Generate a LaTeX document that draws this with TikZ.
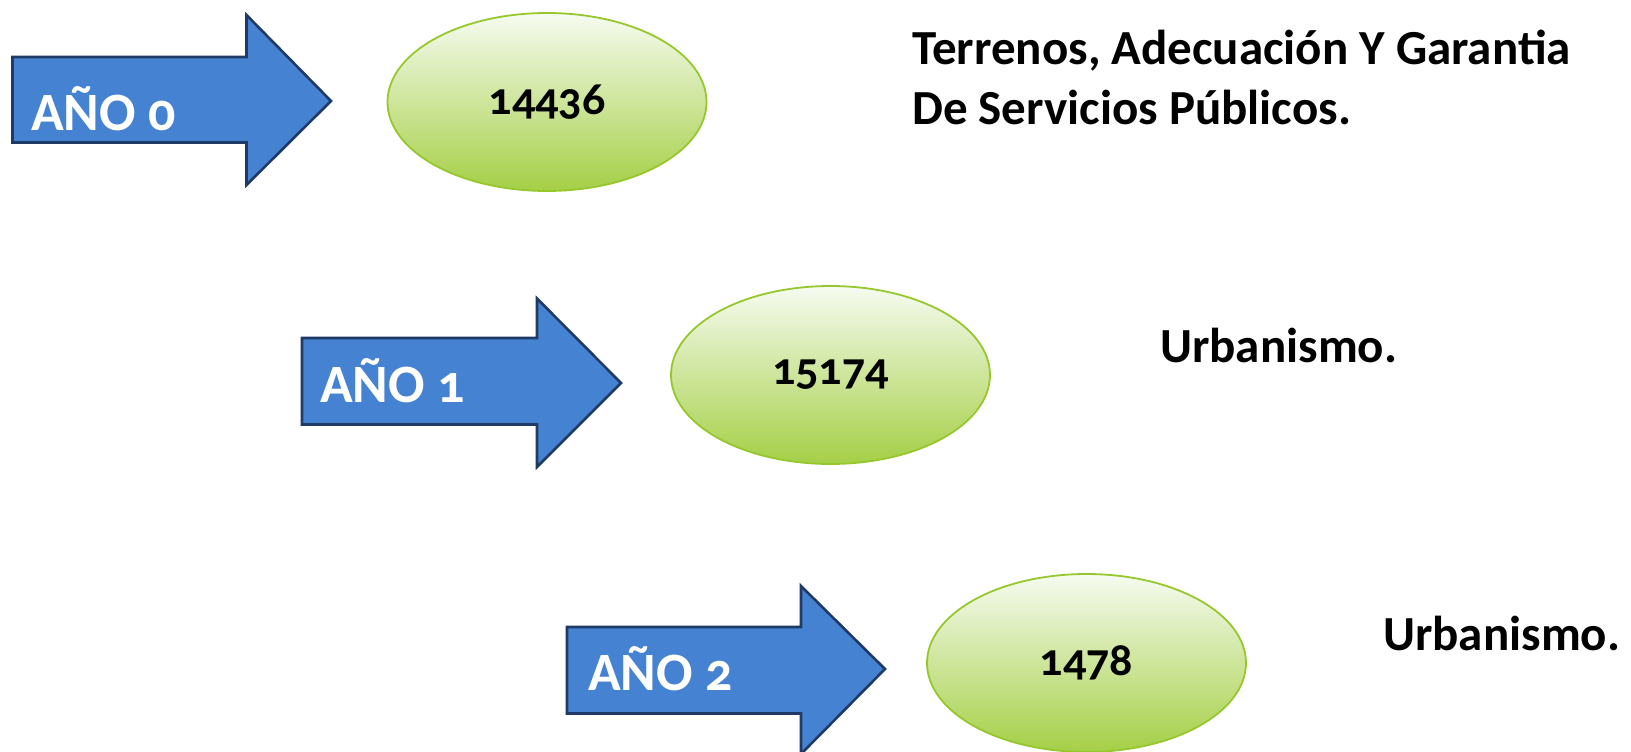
\documentclass[tikz,border=0pt]{standalone}
\usepackage{fontspec}
\setmainfont{Carlito}[Numbers=OldStyle]
\usetikzlibrary{shapes.geometric}
\definecolor{arrowblue}{RGB}{69,131,210}
\definecolor{arrowedge}{RGB}{32,58,102}
\definecolor{elltop}{RGB}{246,251,240}
\definecolor{ellbottom}{RGB}{165,207,70}
\definecolor{elledge}{RGB}{150,200,45}
\begin{document}
\begin{tikzpicture}[x=1pt,y=-1pt,
  arrowshape/.style={fill=arrowblue,draw=arrowedge,line width=2.6pt,line join=miter},
  yeartext/.style={font=\fontsize{54}{60}\selectfont\bfseries,text=white,anchor=base west,inner sep=0pt},
  valell/.style={ellipse,minimum width=319pt,minimum height=178pt,inner sep=0pt,
    top color=elltop,bottom color=ellbottom,draw=elledge,line width=1.8pt,
    font=\fontsize{46}{50}\selectfont\bfseries},
  desc/.style={font=\fontsize{49}{59}\selectfont\bfseries,anchor=base west,inner sep=0pt,align=left}]
\useasboundingbox (0,0) rectangle (1631,752);
% arrow 0
\draw[arrowshape] (12.5,57) -- (246.5,57) -- (246.5,15) -- (331,101) -- (246.5,185) -- (246.5,142.5) -- (12.5,142.5) -- cycle;
\node[yeartext] (y0) at (31,130) {AÑO 0};
\node[valell] (v0) at (547,102) {14436};
\node[desc] (d0) at (912,124) {Terrenos, Adecuación Y Garantia\\De Servicios Públicos.};
% arrow 1
\draw[arrowshape] (302,338) -- (537,338) -- (537,298.5) -- (621,383) -- (537,467) -- (537,424.5) -- (302,424.5) -- cycle;
\node[yeartext] (y1) at (320,402.5) {AÑO 1};
\node[valell] (v1) at (830.5,375) {15174};
\node[desc] (d1) at (1160,362) {Urbanismo.};
% arrow 2
\draw[arrowshape] (567,627) -- (801,627) -- (801,586) -- (885,669) -- (801,754) -- (801,713.5) -- (567,713.5) -- cycle;
\node[yeartext] (y2) at (588,690) {AÑO 2};
\node[valell] (v2) at (1086.5,663) {1478};
\node[desc] (d2) at (1383,650) {Urbanismo.};
\end{tikzpicture}
\end{document}
